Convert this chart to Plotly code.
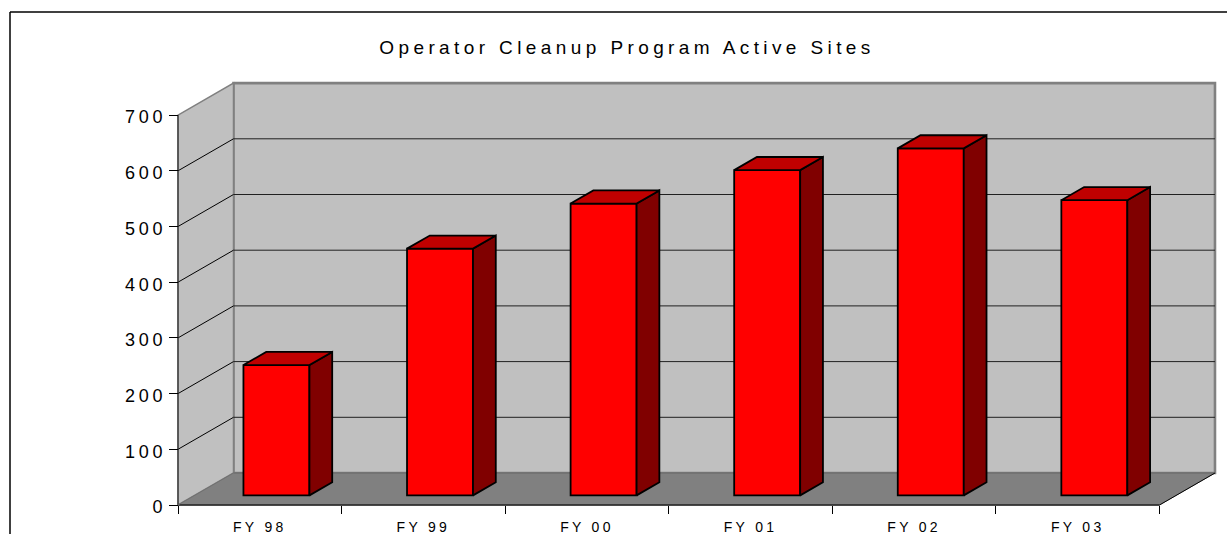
import plotly.graph_objects as go

categories = ["FY 98", "FY 99", "FY 00", "FY 01", "FY 02", "FY 03"]
values = [234, 443, 524, 584, 623, 530]
y_ticks = [0, 100, 200, 300, 400, 500, 600, 700]
title = "Operator Cleanup Program Active Sites"

# scale: pixels per axis unit
PX_CAT = 163.58
PX_VAL = 0.557
# wall depth expressed in axis units
DEPTH_X = 55.5 / PX_CAT
DEPTH_Y = 32.0 / PX_VAL
BAR_W = 66.0 / PX_CAT
FRONT = 0.30     # fraction of depth where bar fronts sit
BACK = 0.71      # fraction of depth where bar backs sit

L, R, T, B = 170, 0, 78, 23
W, H = 1227, 534
plot_w, plot_h = W - L - R, H - T - B
pad_x, pad_y = 8, 6
x_range = [-pad_x / PX_CAT, (plot_w - pad_x) / PX_CAT]
y_range = [-pad_y / PX_VAL, (plot_h - pad_y) / PX_VAL]

n = len(categories)
wall_top = y_ticks[-1]
shapes = []


def poly(xs, ys, fill, line, width):
    path = "M " + " L ".join(f"{x},{y}" for x, y in zip(xs, ys)) + " Z"
    return dict(type="path", path=path, xref="x", yref="y", fillcolor=fill,
                line=dict(color=line, width=width), layer="below")


def seg(x0, y0, x1, y1, color, width):
    return dict(type="line", x0=x0, y0=y0, x1=x1, y1=y1, xref="x", yref="y",
                line=dict(color=color, width=width), layer="below")


# floor
shapes.append(poly([0, n, n + DEPTH_X, DEPTH_X], [0, 0, DEPTH_Y, DEPTH_Y], "#808080", "#808080", 1))
# back wall
shapes.append(poly([DEPTH_X, n + DEPTH_X, n + DEPTH_X, DEPTH_X],
                   [DEPTH_Y, DEPTH_Y, wall_top + DEPTH_Y, wall_top + DEPTH_Y], "#C0C0C0", "#808080", 2.6))
# side wall
shapes.append(poly([0, DEPTH_X, DEPTH_X, 0],
                   [0, DEPTH_Y, wall_top + DEPTH_Y, wall_top], "#C0C0C0", "#808080", 1.5))
# floor shown in front of the wall borders
shapes.append(seg(DEPTH_X, DEPTH_Y, n + DEPTH_X, DEPTH_Y, "#666666", 1))
# grid lines
for t in y_ticks[1:-1]:
    shapes.append(seg(0, t, DEPTH_X, t + DEPTH_Y, "#000000", 1))
    shapes.append(seg(DEPTH_X, t + DEPTH_Y, n + DEPTH_X, t + DEPTH_Y, "#202020", 1))
# axis lines and floor edges
shapes.append(seg(0, 0, 0, wall_top, "#303030", 1.2))
shapes.append(seg(0, 0, n, 0, "#202020", 1.5))
shapes.append(seg(n, 0, n + DEPTH_X, DEPTH_Y, "#000000", 1))
shapes.append(seg(0, 0, DEPTH_X, DEPTH_Y, "#707070", 1))

# outer frame of the chart object
frame_x = (10 - L) / plot_w
frame_y = (H - B - 12) / plot_h
for s in [dict(x0=frame_x, x1=1.05, y0=frame_y, y1=frame_y),
          dict(x0=frame_x, x1=frame_x, y0=frame_y, y1=-0.2)]:
    shapes.append(dict(type="line", xref="paper", yref="paper",
                       line=dict(color="#000000", width=1.5), **s))

fig = go.Figure()

front_base = FRONT * DEPTH_Y
centers = [i + 0.5 + FRONT * DEPTH_X for i in range(n)]
fig.add_trace(go.Bar(
    x=centers, y=values, base=[front_base] * n, width=BAR_W,
    marker=dict(color="#FF0000", line=dict(color="#000000", width=1.8)),
    showlegend=False,
))

dx = (BACK - FRONT) * DEPTH_X
dy = (BACK - FRONT) * DEPTH_Y
side_x, side_y, top_x, top_y = [], [], [], []
for c, v in zip(centers, values):
    left, right = c - BAR_W / 2, c + BAR_W / 2
    low, high = front_base, front_base + v
    side_x += [right, right + dx, right + dx, right, right, None]
    side_y += [low, low + dy, high + dy, high, low, None]
    top_x += [left, left + dx, right + dx, right, left, None]
    top_y += [high, high + dy, high + dy, high, high, None]

for xs, ys, col in [(side_x, side_y, "#800000"), (top_x, top_y, "#C00000")]:
    fig.add_trace(go.Scatter(
        x=xs, y=ys, mode="lines", fill="toself", fillcolor=col,
        line=dict(color="#000000", width=1.8), showlegend=False, hoverinfo="skip",
    ))

fig.update_layout(
    width=W, height=H, margin=dict(l=L, r=R, t=T, b=B),
    paper_bgcolor="#FFFFFF", plot_bgcolor="rgba(0,0,0,0)",
    font=dict(family="Liberation Sans, Arial, sans-serif", color="#000000"),
    title=dict(text=title, x=627 / W, xref="container", xanchor="center",
               y=1 - 47 / H, yref="container", yanchor="middle",
               font=dict(size=19, color="#000000")),
    shapes=shapes, showlegend=False,
    xaxis=dict(
        range=x_range, anchor="free", position=pad_y / plot_h, showgrid=False, zeroline=False,
        showline=False, tickmode="array", tickvals=[i + 0.5 for i in range(n)], ticktext=categories,
        ticks="", ticklabelstandoff=12, tickfont=dict(size=14, color="#000000"),
        minor=dict(tickmode="array", tickvals=list(range(n + 1)), ticks="outside", ticklen=8,
                   tickcolor="#000000", tickwidth=1, showgrid=False),
    ),
    yaxis=dict(
        range=y_range, anchor="free", position=pad_x / plot_w, showgrid=False, zeroline=False,
        showline=False, tickmode="array", tickvals=y_ticks, ticks="outside", ticklen=9,
        tickcolor="#000000", tickwidth=1, ticklabelstandoff=-1, ticklabelshift=2,
        tickfont=dict(size=18, color="#000000"),
    ),
)

post = """
var s = document.createElement('style');
s.textContent = 'html,body{margin:0;padding:0;overflow:hidden}'
 + '.gtitle{letter-spacing:4.4px}'
 + '.xtick text{letter-spacing:3.3px}'
 + '.ytick text{letter-spacing:3.8px}';
document.head.appendChild(s);
"""
fig.write_html("out.html", post_script=post, config={"displayModeBar": False})
